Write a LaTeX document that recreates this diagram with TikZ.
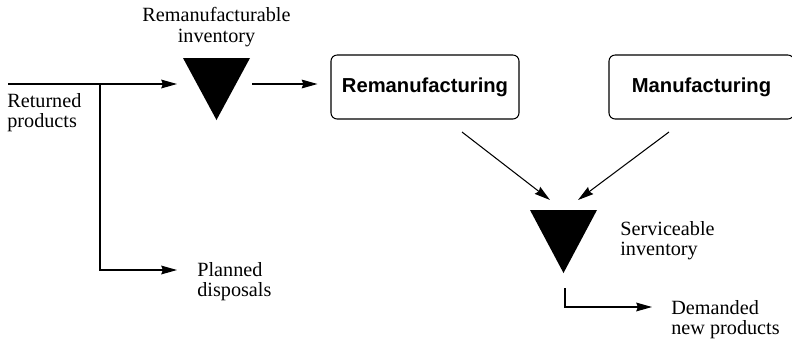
\documentclass[tikz,border=0pt]{standalone}
\usepackage{fontspec}
\setmainfont{Liberation Serif}
\setsansfont{Liberation Sans}
\usetikzlibrary{positioning, arrows.meta}
\tikzset{
  flow/.style={-{Stealth[length=9pt, width=5pt, inset=1pt]}, line width=0.6pt, black},
  wire/.style={line width=0.6pt, black},
  procbox/.style={draw, line width=0.6pt, rounded corners=3.5pt, minimum height=64*0.02cm,
    inner sep=2pt, font=\sffamily\bfseries\fontsize{11.5}{13}\selectfont, align=center},
  inv/.style={fill=black},
  lbl/.style={font=\fontsize{11.5}{11.5}\selectfont, inner sep=0pt},
}

\begin{document}
\begin{tikzpicture}[x=0.02cm, y=-0.02cm]
  \useasboundingbox (0,0) rectangle (792,343);
  % inventories
  \fill[inv] (183,58) coordinate (ri-nw) -- (250,58) coordinate (ri-ne) -- (216.5,120) coordinate (ri-s) -- cycle;
  \fill[inv] (530,210) coordinate (si-nw) -- (597,210) coordinate (si-ne) -- (563.5,273) coordinate (si-s) -- cycle;
  \node[lbl, align=center] (ri-lab) at (216.5,27) {Remanufacturable\\inventory};
  \node[lbl, align=left, anchor=west] (si-lab) at (620,241) {Serviceable\\inventory};
  % processes
  \node[procbox, minimum width=188*0.02cm] (rem) at (425,87) {Remanufacturing};
  \node[procbox, minimum width=185*0.02cm] (man) at (701.5,87) {Manufacturing};
  % flows
  \coordinate (src) at (8,84);
  \coordinate (split) at (100,84);
  \coordinate (ri-in) at (177,84);
  \coordinate (ri-out) at (252,84);
  \coordinate (disp) at (177,270);
  \coordinate (si-out) at (565,288);
  \coordinate (dem) at (652,307);
  \draw[flow] (src) -- (ri-in);
  \draw[flow] (split) |- (disp);
  \draw[flow] (ri-out) -- ([xshift=-13*0.02cm]ri-out -| rem.west);
  \draw[flow] (462,132) coordinate (rem-out) -- (550,200) coordinate (si-in1);
  \draw[flow] (669,132) coordinate (man-out) -- (578,200) coordinate (si-in2);
  \draw[flow] (si-out) |- (dem);
  \node[lbl, align=left, anchor=west] (ret) at (7,113) {Returned\\products};
  \node[lbl, align=left, anchor=west] (pd) at (197,282) {Planned\\disposals};
  \node[lbl, align=left, anchor=west] (dnp) at (671,320) {Demanded\\new products};
\end{tikzpicture}
\end{document}
